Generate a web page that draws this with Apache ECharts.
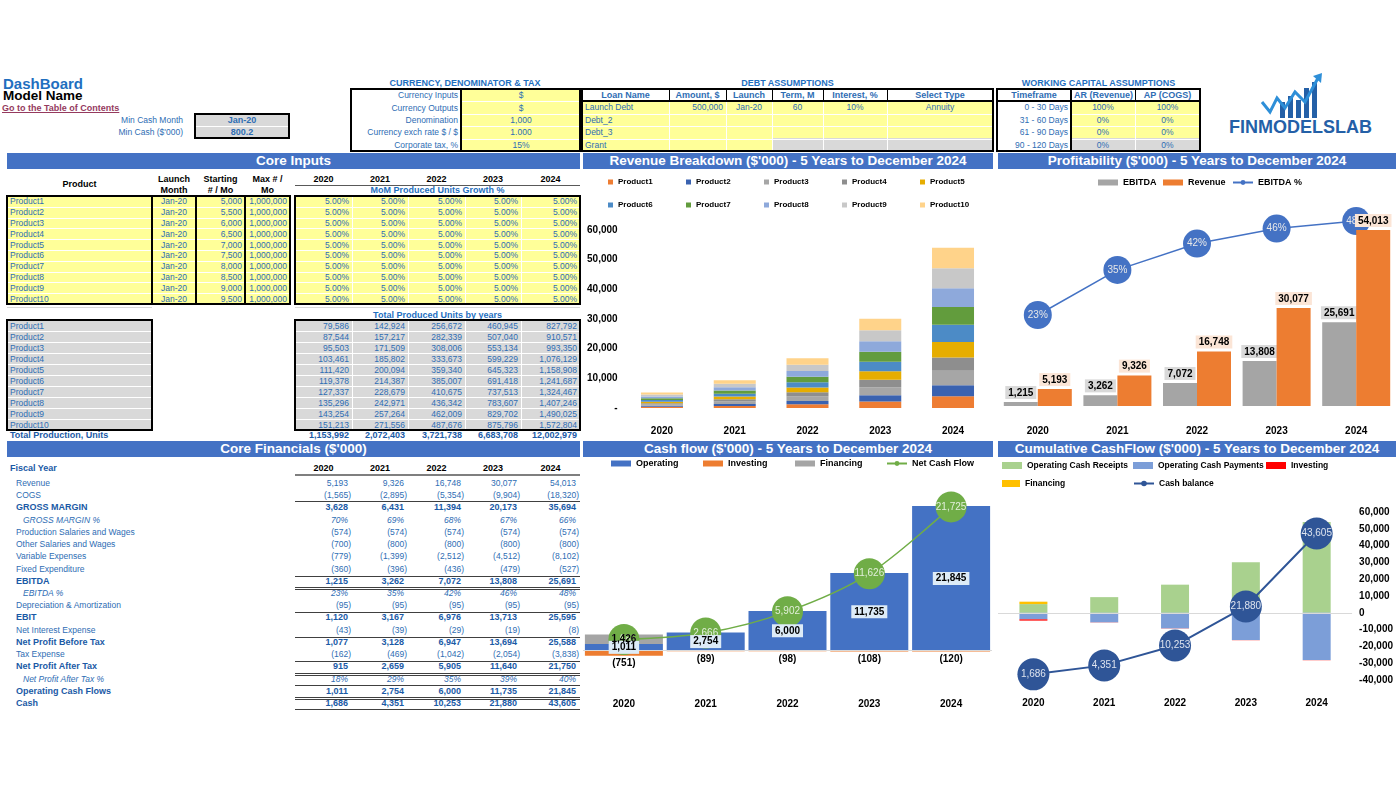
<!DOCTYPE html>
<html><head><meta charset="utf-8">
<script src="https://cdn.jsdelivr.net/npm/echarts@6/dist/echarts.min.js"></script>
<style>
html,body{margin:0;padding:0;background:#fff;}
body{width:1396px;height:786px;overflow:hidden;position:relative;font-family:"Liberation Sans",Arial,sans-serif;}
.a{position:absolute;white-space:nowrap;box-sizing:border-box;}
</style></head><body>
<script>
// ---------------- DATA ----------------
const years = ['2020','2021','2022','2023','2024'];
const products = ['Product1','Product2','Product3','Product4','Product5','Product6','Product7','Product8','Product9','Product10'];
const launchMonth = ['Jan-20','Jan-20','Jan-20','Jan-20','Jan-20','Jan-20','Jan-20','Jan-20','Jan-20','Jan-20'];
const startingUnits = [5000,5500,6000,6500,7000,7500,8000,8500,9000,9500];
const maxUnits = [1000000,1000000,1000000,1000000,1000000,1000000,1000000,1000000,1000000,1000000];
const momGrowth = ['5.00%','5.00%','5.00%','5.00%','5.00%'];
const producedUnits = [
  [79586,142924,256672,460945,827792],
  [87544,157217,282339,507040,910571],
  [95503,171509,308006,553134,993350],
  [103461,185802,333673,599229,1076129],
  [111420,200094,359340,645323,1158908],
  [119378,214387,385007,691418,1241687],
  [127337,228679,410675,737513,1324467],
  [135296,242971,436342,783607,1407246],
  [143254,257264,462009,829702,1490025],
  [151213,271556,487676,875796,1572804]
];
const totalProduction = [1153992,2072403,3721738,6683708,12002979];

const revenue = [5193,9326,16748,30077,54013];
const cogs = [-1565,-2895,-5354,-9904,-18320];
const grossMargin = [3628,6431,11394,20173,35694];
const grossMarginPct = [0.70,0.69,0.68,0.67,0.66];
const prodSalaries = [-574,-574,-574,-574,-574];
const otherSalaries = [-700,-800,-800,-800,-800];
const variableExp = [-779,-1399,-2512,-4512,-8102];
const fixedExp = [-360,-396,-436,-479,-527];
const ebitda = [1215,3262,7072,13808,25691];
const ebitdaPct = [0.23,0.35,0.42,0.46,0.48];
const depreciation = [-95,-95,-95,-95,-95];
const ebit = [1120,3167,6976,13713,25595];
const netInterest = [-43,-39,-29,-19,-8];
const npbt = [1077,3128,6947,13694,25588];
const taxExpense = [-162,-469,-1042,-2054,-3838];
const npat = [915,2659,5905,11640,21750];
const npatPct = [0.18,0.29,0.35,0.39,0.40];
const opCashFlows = [1011,2754,6000,11735,21845];
const cash = [1686,4351,10253,21880,43605];

// revenue by product ($'000)
const productRevenue = [
  [380,683,1226,2202,3955],
  [358,644,1156,2075,3729],
  [467,839,1507,2707,4858],
  [435,781,1402,2517,4520],
  [500,897,1611,2893,5198],
  [554,995,1787,3209,5762],
  [576,1034,1857,3336,5989],
  [609,1093,1963,3525,6328],
  [652,1170,2102,3775,6780],
  [662,1190,2137,3838,6894]
];
const cfOperating = [1011,2754,6000,11735,21845];
const cfInvesting = [-751,-89,-98,-108,-120];
const cfFinancing = [1426,0,0,0,0];
const netCashFlow = [1686,2666,5902,11626,21725];

const cashReceipts = [5193,9326,16748,30077,54013];
const cashPayments = [-3900,-5700,-9300,-16200,-28100];
const cumInvesting = [-751,-89,-98,-108,-120];
const cumFinancing = [1426,0,0,0,0];
const cashBalance = [1686,4351,10253,21880,43605];

const revAxisTicks = [0,10000,20000,30000,40000,50000,60000];

const currencyLabels = ['Currency Inputs','Currency Outputs','Denomination','Currency exch rate $ / $','Corporate tax, %'];
const currencyValues = ['$','$','1,000','1.000','15%'];
const debtHeaders = ['Loan Name','Amount, $','Launch','Term, M','Interest, %','Select Type'];
const debtRows = [
  ['Launch Debt','500,000','Jan-20','60','10%','Annuity'],
  ['Debt_2','','','','',''],
  ['Debt_3','','','','',''],
  ['Grant','','','','','']
];
const wcHeaders = ['Timeframe','AR (Revenue)','AP (COGS)'];
const wcRows = [['0 - 30 Days','100%','100%'],['31 - 60 Days','0%','0%'],['61 - 90 Days','0%','0%'],['90 - 120 Days','0%','0%']];

// ---------------- HELPERS ----------------
const BLUE = '#2E6DB4', DBLUE = '#1A5AA6', YEL = '#FFFF99', GREY = '#D9D9D9', BAR = '#4472C4';
const root = document.body;
function el(x,y,w,h,style){const d=document.createElement('div');d.className='a';d.style.left=x+'px';d.style.top=y+'px';if(w!=null)d.style.width=w+'px';if(h!=null)d.style.height=h+'px';Object.assign(d.style,style||{});root.appendChild(d);return d;}
function txt(x1,x2,yc,text,align,style){const d=el(x1,yc-6,x2-x1,12,Object.assign({lineHeight:'12px',textAlign:align||'left',fontSize:'8.5px',color:BLUE,padding:'0 3px'},style||{}));d.textContent=text;return d;}
function rect(x1,y1,x2,y2,bg,style){return el(x1,y1,x2-x1,y2-y1,Object.assign({background:bg},style||{}));}
function frame(x1,y1,x2,y2,bw,c){return el(x1,y1,x2-x1,y2-y1,{border:(bw||2)+'px solid '+(c||'#000')});}
function hline(x1,x2,y,color,h){return rect(x1,y,x2,y+(h||1),color||'#000');}
function vline(x,y1,y2,color,w){return rect(x,y1,x+(w||1),y2,color||'#000');}
function secBar(x1,x2,y1,y2,title){const d=rect(x1,y1,x2,y2,BAR,{color:'#fff',fontWeight:'bold',fontSize:'13.5px',textAlign:'center',lineHeight:(y2-y1)+'px'});d.textContent=title;}
const fmtAbs = v => Math.abs(v).toLocaleString('en-US');
const fmt = v => v<0 ? '('+fmtAbs(v)+')' : fmtAbs(v);
const pct = v => Math.round(v*100)+'%';
const valCols = [[295,352],[352,408],[408,465],[465,521],[521,580]];
const bold = {fontWeight:'bold',fontSize:'9px'};

// ---------------- HEADER ----------------
txt(0,200,84,'DashBoard','left',{fontSize:'15px',fontWeight:'bold',color:'#1F6FBF',lineHeight:'16px',height:'16px',top:'76px'});
txt(0,200,96,'Model Name','left',{fontSize:'13.5px',fontWeight:'bold',color:'#000',lineHeight:'14px',height:'14px',top:'89px'});
txt(-1,200,108,'Go to the Table of Contents','left',{fontSize:'9px',fontWeight:'bold',color:'#953A5E',textDecoration:'underline'});
txt(80,186,120,'Min Cash Month','right');
txt(80,186,132,"Min Cash ($'000)",'right');
rect(195,114,289,138,GREY);
hline(195,289,126,'#fff');
txt(195,289,120,'Jan-20','center',bold);
txt(195,289,132,'800.2','center',bold);
frame(194,113,290,139,2);

// Currency table
txt(350,580,83,'CURRENCY, DENOMINATOR & TAX','center',{fontWeight:'bold',fontSize:'9px',color:'#1F6FBF'});
rect(462,89,580,151,YEL);
currencyLabels.forEach((l,i)=>{const yc=95.2+i*12.4; if(i>0)hline(462,580,89+i*12.4,'#fff');
  txt(350,461,yc,l,'right'); txt(462,580,yc,currencyValues[i],'center');});
frame(350,88,581,152,2); vline(460,88,152,'#000',2);

// Debt table
txt(582,993,83,'DEBT ASSUMPTIONS','center',{fontWeight:'bold',fontSize:'9px',color:'#1F6FBF'});
const debtCols=[582,669,726,772,823,887,993];
const debtAlign=['left','right','center','center','center','center'];
rect(582,101,993,151,YEL);
rect(772,138,993,151,GREY);
for(let r=1;r<4;r++) hline(582,993,101+r*12.5,'#fff');
for(let c=1;c<6;c++) vline(debtCols[c],101,151,'#fff');
debtHeaders.forEach((h,c)=>txt(debtCols[c],debtCols[c+1],95,h,'center',bold));
debtRows.forEach((row,r)=>row.forEach((v,c)=>{if(v!=='')txt(debtCols[c],debtCols[c+1],107.2+r*12.5,v,debtAlign[c]);}));
for(let c=1;c<6;c++) vline(debtCols[c],88,101,'#000');
hline(582,993,100,'#000',2);
frame(581,88,994,152,2);

// Working capital table
txt(997,1200,83,'WORKING CAPITAL ASSUMPTIONS','center',{fontWeight:'bold',fontSize:'9px',color:'#1F6FBF'});
const wcCols=[997,1071,1135,1200];
rect(1071,101,1200,151,YEL);
rect(1071,138,1200,151,GREY);
for(let r=1;r<4;r++) hline(1071,1200,101+r*12.5,'#fff');
vline(1135,101,151,'#fff');
wcHeaders.forEach((h,c)=>txt(wcCols[c],wcCols[c+1],95,h,'center',bold));
wcRows.forEach((row,r)=>row.forEach((v,c)=>txt(wcCols[c],wcCols[c+1],107.2+r*12.5,v,c===0?'right':'center')));
vline(1071,88,101,'#000'); vline(1135,88,101,'#000');
hline(997,1200,100,'#000',2);
vline(1070,88,152,'#000',2);
frame(996,88,1201,152,2);

// Logo
const logo = el(1258,72,70,48,{});
logo.innerHTML='<svg width="70" height="48" viewBox="0 0 70 48"><g fill="#2460A7"><rect x="22" y="30" width="5" height="16"/><rect x="30" y="24" width="5" height="22"/><rect x="38" y="28" width="5" height="18"/><rect x="46" y="16" width="5" height="30"/><rect x="54" y="10" width="5" height="36"/></g><polyline points="4,30 12,40 19,26 27,36 37,20 47,30 60,6" fill="none" stroke="#2E8FD8" stroke-width="3"/><polygon points="55,4 64,1 63,11" fill="#2E8FD8"/></svg>';
txt(1226,1380,127,'FINMODELSLAB','left',{fontSize:'18px',fontWeight:'bold',color:'#2460A7',lineHeight:'18px',height:'18px',top:'118px',padding:'0 3px'});

// ---------------- SECTION BARS ----------------
secBar(7,580,153,169,'Core Inputs');
secBar(583,993,153,169,"Revenue Breakdown ($'000) - 5 Years to December 2024");
secBar(998,1396,153,169,"Profitability ($'000) - 5 Years to December 2024");
secBar(7,580,441,457,"Core Financials ($'000)");
secBar(583,993,441,457,"Cash flow ($'000) - 5 Years to December 2024");
secBar(998,1396,441,457,"Cumulative CashFlow ($'000) - 5 Years to December 2024");

// ---------------- CORE INPUTS ----------------
const hb = {fontWeight:'bold',fontSize:'9px',color:'#000'};
txt(7,152,184,'Product','center',hb);
txt(152,196,179,'Launch','center',hb); txt(152,196,190,'Month','center',hb);
txt(196,245,179,'Starting','center',hb); txt(196,245,190,'# / Mo','center',hb);
txt(245,290,179,'Max # /','center',hb); txt(245,290,190,'Mo','center',hb);
years.forEach((y,c)=>txt(valCols[c][0],valCols[c][1],179,y,'center',hb));
hline(295,580,185,'#595959');
txt(295,580,190,'MoM Produced Units Growth %','center',{fontWeight:'bold',fontSize:'9px',color:'#1F6FBF'});
const rh=10.8, r0=196;
rect(7,r0,290,r0+10*rh,YEL); rect(295,r0,580,r0+10*rh,YEL);
for(let i=1;i<10;i++){hline(7,290,r0+i*rh,'#fff');hline(295,580,r0+i*rh,'#fff');}
for(let c=1;c<5;c++) vline(valCols[c][0],r0,r0+10*rh,'#fff');
products.forEach((p,i)=>{const yc=r0+i*rh+rh/2;
  txt(7,152,yc,p,'left');
  txt(152,196,yc,launchMonth[i],'center');
  txt(196,245,yc,startingUnits[i].toLocaleString('en-US'),'right');
  txt(245,290,yc,maxUnits[i].toLocaleString('en-US'),'right');
  momGrowth.forEach((g,c)=>txt(valCols[c][0],valCols[c][1],yc,g,'right'));
});
[[7,152],[152,196],[196,245],[245,290]].forEach(([a,b])=>frame(a-1,r0-1,b+1,r0+10*rh+1,2));
frame(294,r0-1,581,r0+10*rh+1,2);

// Total produced units
hline(7,152,307,'#D9D9D9'); hline(295,580,307,'#D9D9D9');
txt(295,580,315,'Total Produced Units by years','center',{fontWeight:'bold',fontSize:'9px',color:'#1F6FBF'});
const u0=320, uh=11;
rect(7,u0,152,u0+10*uh,GREY); rect(295,u0,580,u0+10*uh,GREY);
for(let i=1;i<10;i++){hline(7,152,u0+i*uh,'#fff');hline(295,580,u0+i*uh,'#fff');}
for(let c=1;c<5;c++) vline(valCols[c][0],u0,u0+10*uh,'#fff');
products.forEach((p,i)=>{const yc=u0+i*uh+uh/2;
  txt(7,152,yc,p,'left');
  producedUnits[i].forEach((v,c)=>txt(valCols[c][0],valCols[c][1],yc,fmt(v),'right'));
});
frame(6,u0-1,153,u0+10*uh+1,2); frame(294,u0-1,581,u0+10*uh+1,2);
txt(7,200,435,'Total Production, Units','left',{fontWeight:'bold',fontSize:'9px',color:DBLUE});
totalProduction.forEach((v,c)=>txt(valCols[c][0]-20,valCols[c][1],435,fmt(v),'right',{fontWeight:'bold',fontSize:'9px',color:DBLUE}));

// ---------------- CORE FINANCIALS ----------------
txt(7,200,468,'Fiscal Year','left',{fontWeight:'bold',fontSize:'9px',color:DBLUE});
years.forEach((y,c)=>txt(valCols[c][0],valCols[c][1],468,y,'center',hb));
hline(295,580,474,'#7F7F7F',2);
const finRows = [
  ['Revenue',revenue,'n'],['COGS',cogs,'n'],['GROSS MARGIN',grossMargin,'b'],['GROSS MARGIN %',grossMarginPct,'p'],
  ['Production Salaries and Wages',prodSalaries,'n'],['Other Salaries and Wages',otherSalaries,'n'],['Variable Expenses',variableExp,'n'],
  ['Fixed Expenditure',fixedExp,'n'],['EBITDA',ebitda,'b'],['EBITDA %',ebitdaPct,'p'],['Depreciation & Amortization',depreciation,'n'],
  ['EBIT',ebit,'b'],['Net Interest Expense',netInterest,'n'],['Net Profit Before Tax',npbt,'b'],['Tax Expense',taxExpense,'n'],
  ['Net Profit After Tax',npat,'b'],['Net Profit After Tax %',npatPct,'p'],['Operating Cash Flows',opCashFlows,'b'],['Cash',cash,'b']
];
finRows.forEach(([label,vals,kind],i)=>{
  const yc=483+i*12.22;
  const st = kind==='b'?{fontWeight:'bold',fontSize:'9px',color:DBLUE}:kind==='p'?{fontStyle:'italic',color:BLUE}:{color:BLUE};
  txt(kind==='p'?20:13,290,yc,label,'left',st);
  vals.forEach((v,c)=>{const s=kind==='p'?pct(v):fmt(v);
    txt(valCols[c][0]-20,valCols[c][1],yc,s,'right',Object.assign({},st,{padding:(v<0?'0 1px 0 0':'0 4px 0 0')}));});
});
function dbl(y){hline(295,580,y,'#404040');hline(295,580,y+2,'#404040');}
hline(295,580,501,'#404040');
hline(295,580,576,'#404040');
dbl(587);
hline(295,580,612,'#404040');
hline(295,580,637,'#404040');
hline(295,580,661,'#404040');
dbl(673);
hline(295,580,685,'#404040');
dbl(697);
hline(295,580,709,'#404040');

// ---------------- CHARTS ----------------
const FF = '"Liberation Sans", Arial, sans-serif';
const axLbl = {fontWeight:'bold',fontSize:10,color:'#000',fontFamily:FF};
// one legend component per entry, so entries sit in fixed columns like the original
function legendAt(item,left,top,w,h,fs){return {left:left,top:top,padding:0,itemWidth:w,itemHeight:h,data:[item],
  textStyle:{fontSize:fs,fontWeight:'bold',color:'#000',fontFamily:FF}};}

// Revenue breakdown
const revColors = ['#EE7D33','#3A62B0','#A6A6A6','#8E8E8E','#E6AD00','#4C8BC6','#629C3D','#8EA9DB','#C8C8C8','#FFD38A'];
const c1 = echarts.init(el(583,170,410,270));
c1.setOption({
  animation:false,
  legend:products.map((p,i)=>legendAt({name:p,icon:'rect'},25+(i%5)*78,i<5?8:31,5,5,8)),
  grid:{left:42.6,right:3.6,top:60,bottom:32},
  xAxis:{type:'category',data:years,axisLine:{show:false},axisTick:{show:false},axisLabel:Object.assign({margin:18},axLbl)},
  yAxis:{type:'value',min:revAxisTicks[0],max:revAxisTicks[revAxisTicks.length-1],interval:revAxisTicks[1]-revAxisTicks[0],
    splitLine:{show:false},axisLine:{show:false},axisTick:{show:false},
    axisLabel:Object.assign({margin:8,formatter:v=>v===0?'-':v.toLocaleString('en-US')},axLbl)},
  series:products.map((p,i)=>({name:p,type:'bar',stack:'rev',barWidth:42,data:productRevenue[i],
    itemStyle:{color:revColors[i]}}))
});

// Profitability
const c2 = echarts.init(el(998,170,398,270));
const barLbl = bg=>({show:true,position:'top',distance:3,formatter:p=>fmt(p.value),backgroundColor:bg,padding:[2,3,1,3],
  fontWeight:'bold',fontSize:10,color:'#000',fontFamily:FF});
c2.setOption({
  animation:false,
  legend:[legendAt({name:'EBITDA',icon:'rect'},100,8,20,6,9),legendAt({name:'Revenue',icon:'rect'},165,8,20,6,9),
          legendAt({name:'EBITDA %'},234,8,20,6,9)],
  grid:{left:0,right:0,top:40.5,bottom:34},
  xAxis:{type:'category',data:years,axisLine:{show:false},axisTick:{show:false},axisLabel:Object.assign({margin:20},axLbl)},
  yAxis:[{type:'value',min:0,max:60000,show:false},{type:'value',min:-0.012,max:0.508,show:false}],
  series:[
    {name:'EBITDA',type:'bar',barWidth:34,barGap:'0%',data:ebitda,itemStyle:{color:'#A5A5A5'},label:barLbl('#D9D9D9')},
    {name:'Revenue',type:'bar',barWidth:34,barGap:'0%',data:revenue,z:4,itemStyle:{color:'#ED7D31'},label:barLbl('#FBE5D6')},
    {name:'EBITDA %',type:'line',yAxisIndex:1,data:ebitdaPct,z:3,symbol:'circle',symbolSize:28,
      lineStyle:{color:'#4472C4',width:1.5},itemStyle:{color:'#4472C4'},
      label:{show:true,position:'inside',color:'#E8E8E8',fontSize:10,fontFamily:FF,formatter:p=>pct(p.value)}}
  ]
});

// Cash flow
const c3 = echarts.init(el(583,457,410,258));
const cfLbl = (pos,fn)=>({show:true,position:pos,distance:3,formatter:fn,fontWeight:'bold',fontSize:10,color:'#000',fontFamily:FF});
const transparent = {color:'rgba(0,0,0,0)'};
c3.setOption({
  animation:false,
  legend:[legendAt({name:'Operating',icon:'rect'},28,2,20,6,9),legendAt({name:'Investing',icon:'rect'},120,2,20,6,9),
          legendAt({name:'Financing',icon:'rect'},212,2,20,6,9),legendAt({name:'Net Cash Flow'},303,2,20,6,9)],
  grid:{left:0,right:1,top:28.2,bottom:31.2},
  xAxis:{type:'category',data:years,axisLine:{show:false},axisTick:{show:false},axisLabel:Object.assign({margin:15},axLbl)},
  yAxis:{type:'value',min:-5000,max:25000,show:false},
  series:[
    {name:'Operating',type:'bar',stack:'cf',barWidth:78,data:cfOperating,itemStyle:{color:'#4472C4'},
      markLine:{silent:true,symbol:'none',label:{show:false},lineStyle:{color:'#D9D9D9',width:1,type:'solid'},data:[{yAxis:0}]}},
    {name:'Investing',type:'bar',stack:'cf',barWidth:78,data:cfInvesting,itemStyle:{color:'#ED7D31'}},
    {name:'Financing',type:'bar',stack:'cf',barWidth:78,data:cfFinancing,itemStyle:{color:'#A5A5A5'}},
    {name:'Net Cash Flow',type:'line',data:netCashFlow,smooth:0.3,z:5,symbol:'circle',symbolSize:31,
      lineStyle:{color:'#70AD47',width:1.5},itemStyle:{color:'#70AD47'},
      label:{show:true,position:'inside',color:'#E2EFDA',fontSize:10,fontFamily:FF,formatter:p=>fmt(p.value)}},
    // label overlays (drawn above the line, as in the original)
    {name:'lblOp',type:'bar',stack:'cfl',barWidth:78,barGap:'-100%',data:cfOperating,z:6,itemStyle:transparent,
      label:Object.assign(cfLbl('inside',p=>fmt(p.value)),{backgroundColor:'#DDEBF7',padding:[2,3,1,3]})},
    {name:'lblInv',type:'bar',stack:'cfl',barWidth:78,data:cfInvesting,z:6,itemStyle:transparent,
      label:cfLbl('bottom',p=>fmt(p.value))},
    {name:'lblFin',type:'bar',stack:'cfl',barWidth:78,data:cfFinancing,z:6,itemStyle:transparent,
      label:cfLbl('inside',p=>p.value?fmt(p.value):'')}
  ]
});

// Cumulative cash flow
const c4 = echarts.init(el(998,457,398,258));
c4.setOption({
  animation:false,
  legend:[legendAt({name:'Operating Cash Receipts',icon:'rect'},4,4,20,7,8.5),
          legendAt({name:'Operating Cash Payments',icon:'rect'},135,4,20,7,8.5),
          legendAt({name:'Investing',icon:'rect'},268,4,20,7,8.5),
          legendAt({name:'Financing',icon:'rect'},4,22,18,7,8.5),
          legendAt({name:'Cash balance'},135,22,20,7,8.5)],
  grid:{left:0,right:42.4,top:55,bottom:35},
  xAxis:{type:'category',data:years,axisLine:{show:false},axisTick:{show:false},axisLabel:Object.assign({margin:18},axLbl)},
  yAxis:[{type:'value',position:'right',min:-40000,max:60000,interval:10000,splitLine:{show:false},axisLine:{show:false},axisTick:{show:false},
      axisLabel:Object.assign({margin:7,formatter:v=>v.toLocaleString('en-US')},axLbl)},
    {type:'value',min:0,max:50000,show:false}],
  series:[
    {name:'Operating Cash Receipts',type:'bar',stack:'cum',barWidth:28,data:cashReceipts,itemStyle:{color:'#A9D18E'},
      markLine:{silent:true,symbol:'none',label:{show:false},lineStyle:{color:'#D9D9D9',width:1,type:'solid'},data:[{yAxis:0}]}},
    {name:'Operating Cash Payments',type:'bar',stack:'cum',barWidth:28,data:cashPayments,itemStyle:{color:'#7C9ED8'}},
    {name:'Investing',type:'bar',stack:'cum',barWidth:28,data:cumInvesting,itemStyle:{color:'#FF0000'}},
    {name:'Financing',type:'bar',stack:'cum',barWidth:28,data:cumFinancing,itemStyle:{color:'#FFC000'}},
    {name:'Cash balance',type:'line',yAxisIndex:1,data:cashBalance,z:5,symbol:'circle',symbolSize:32,
      lineStyle:{color:'#2F5597',width:2},itemStyle:{color:'#2F5597'},
      label:{show:true,position:'inside',color:'#DDE3EE',fontSize:10,fontFamily:FF,formatter:p=>fmt(p.value)}}
  ]
});
</script>
</body></html>
